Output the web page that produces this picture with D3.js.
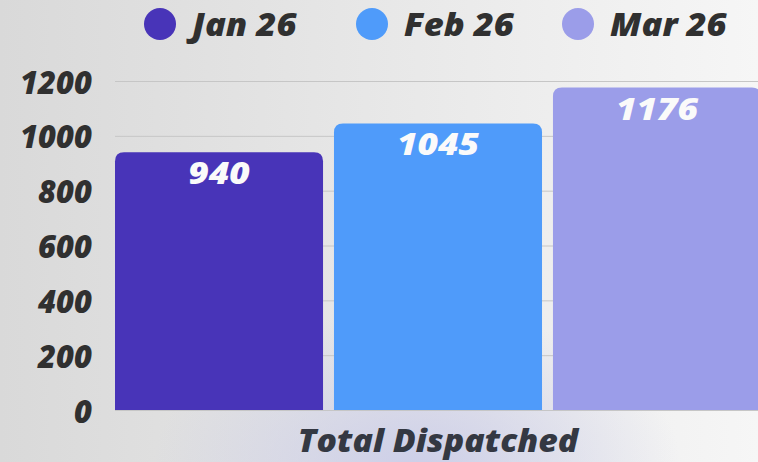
<!DOCTYPE html>
<html>
<head>
<script src="https://cdn.jsdelivr.net/npm/d3@7"></script>
<style>
  body { margin: 0; padding: 0; overflow: hidden; }
  svg { display: block; }
  text { font-family: "Open Sans", sans-serif; font-weight: 800; font-style: italic; }
</style>
</head>
<body>
<svg id="chart" width="758" height="462"></svg>
<script>
// data
var groups = ["Total Dispatched"];
var seriesNames = ["Jan 26", "Feb 26", "Mar 26"];
var seriesValues = [940, 1045, 1176];
var seriesColors = ["#4834b8", "#4f9bfa", "#9b9de9"];
var yTicks = [0, 200, 400, 600, 800, 1000, 1200];

var W = 758, H = 462;
var margin = {top: 81, right: -3, bottom: 52, left: 115};

var svg = d3.select("#chart");
var defs = svg.append("defs");

// widen text a bit, the original font is wider than Open Sans
function stretch(sel, k) {
  sel.each(function() {
    var w = this.getComputedTextLength();
    d3.select(this).attr("textLength", w * k).attr("lengthAdjust", "spacingAndGlyphs");
  });
}

// background
var bg = defs.append("linearGradient").attr("id", "bg").attr("x1", "0").attr("x2", "1").attr("y1", "0").attr("y2", "0");
bg.append("stop").attr("offset", "0%").attr("stop-color", "#d9d9d9");
bg.append("stop").attr("offset", "100%").attr("stop-color", "#f6f6f6");
var glow = defs.append("radialGradient").attr("id", "glow").attr("cx", "0.55").attr("cy", "1.02").attr("r", "0.35");
glow.append("stop").attr("offset", "0%").attr("stop-color", "#c9cbe8").attr("stop-opacity", 0.9);
glow.append("stop").attr("offset", "100%").attr("stop-color", "#c9cbe8").attr("stop-opacity", 0);

svg.append("rect").attr("width", W).attr("height", H).attr("fill", "url(#bg)");
svg.append("rect").attr("width", W).attr("height", H).attr("fill", "url(#glow)");

var x0 = d3.scaleBand().domain(groups).range([margin.left, W - margin.right]).paddingInner(0).paddingOuter(0);
var x1 = d3.scaleBand().domain(seriesNames).range([0, x0.bandwidth()]).paddingInner(0.05).paddingOuter(0);
var y = d3.scaleLinear().domain([0, 1200]).range([H - margin.bottom, margin.top]);

// grid
svg.append("g").selectAll("line").data(yTicks).enter().append("line")
  .attr("x1", margin.left).attr("x2", W)
  .attr("y1", function(d) { return y(d) + 0.5; }).attr("y2", function(d) { return y(d) + 0.5; })
  .attr("stroke", "#c6c6c6").attr("stroke-width", 1);

// y labels
svg.append("g").selectAll("text").data(yTicks).enter().append("text")
  .attr("x", 92).attr("y", function(d) { return y(d) + 12.5; })
  .attr("text-anchor", "end")
  .attr("font-size", 31).attr("fill", "#303030")
  .text(function(d) { return d; });

// bars
var r = 9;
function barPath(x, yt, w, yb) {
  return "M" + x + "," + yb + "V" + (yt + r) + "Q" + x + "," + yt + " " + (x + r) + "," + yt +
    "H" + (x + w - r) + "Q" + (x + w) + "," + yt + " " + (x + w) + "," + (yt + r) + "V" + yb + "Z";
}
var bars = seriesNames.map(function(n, i) { return {name: n, value: seriesValues[i], color: seriesColors[i]}; });
var g = svg.append("g").attr("transform", "translate(" + x0(groups[0]) + ",0)");
g.selectAll("path").data(bars).enter().append("path")
  .attr("d", function(d) { return barPath(x1(d.name), y(d.value), x1.bandwidth(), y(0)); })
  .attr("fill", function(d) { return d.color; });
g.selectAll("text").data(bars).enter().append("text")
  .attr("x", function(d) { return x1(d.name) + x1.bandwidth() / 2; })
  .attr("y", function(d) { return y(d.value) + 32; })
  .attr("text-anchor", "middle").attr("font-size", 30).attr("fill", "#fafafa")
  .text(function(d) { return d.value; })
  .call(stretch, 1.18);

// x label
svg.append("text").attr("x", x0(groups[0]) + x0.bandwidth() / 2).attr("y", 452)
  .attr("text-anchor", "middle").attr("font-size", 31).attr("fill", "#343842")
  .text(groups[0])
  .call(stretch, 1.09);

// legend
var legX = [160, 372, 578];
var leg = svg.append("g").selectAll("g").data(bars).enter().append("g")
  .attr("transform", function(d, i) { return "translate(" + legX[i] + ",24)"; });
leg.append("circle").attr("r", 16).attr("fill", function(d) { return d.color; });
leg.append("text").attr("x", 32).attr("y", 12).attr("font-size", 32).attr("fill", "#303030")
  .text(function(d) { return d.name; })
  .call(stretch, 1.08);
</script>
</body>
</html>
